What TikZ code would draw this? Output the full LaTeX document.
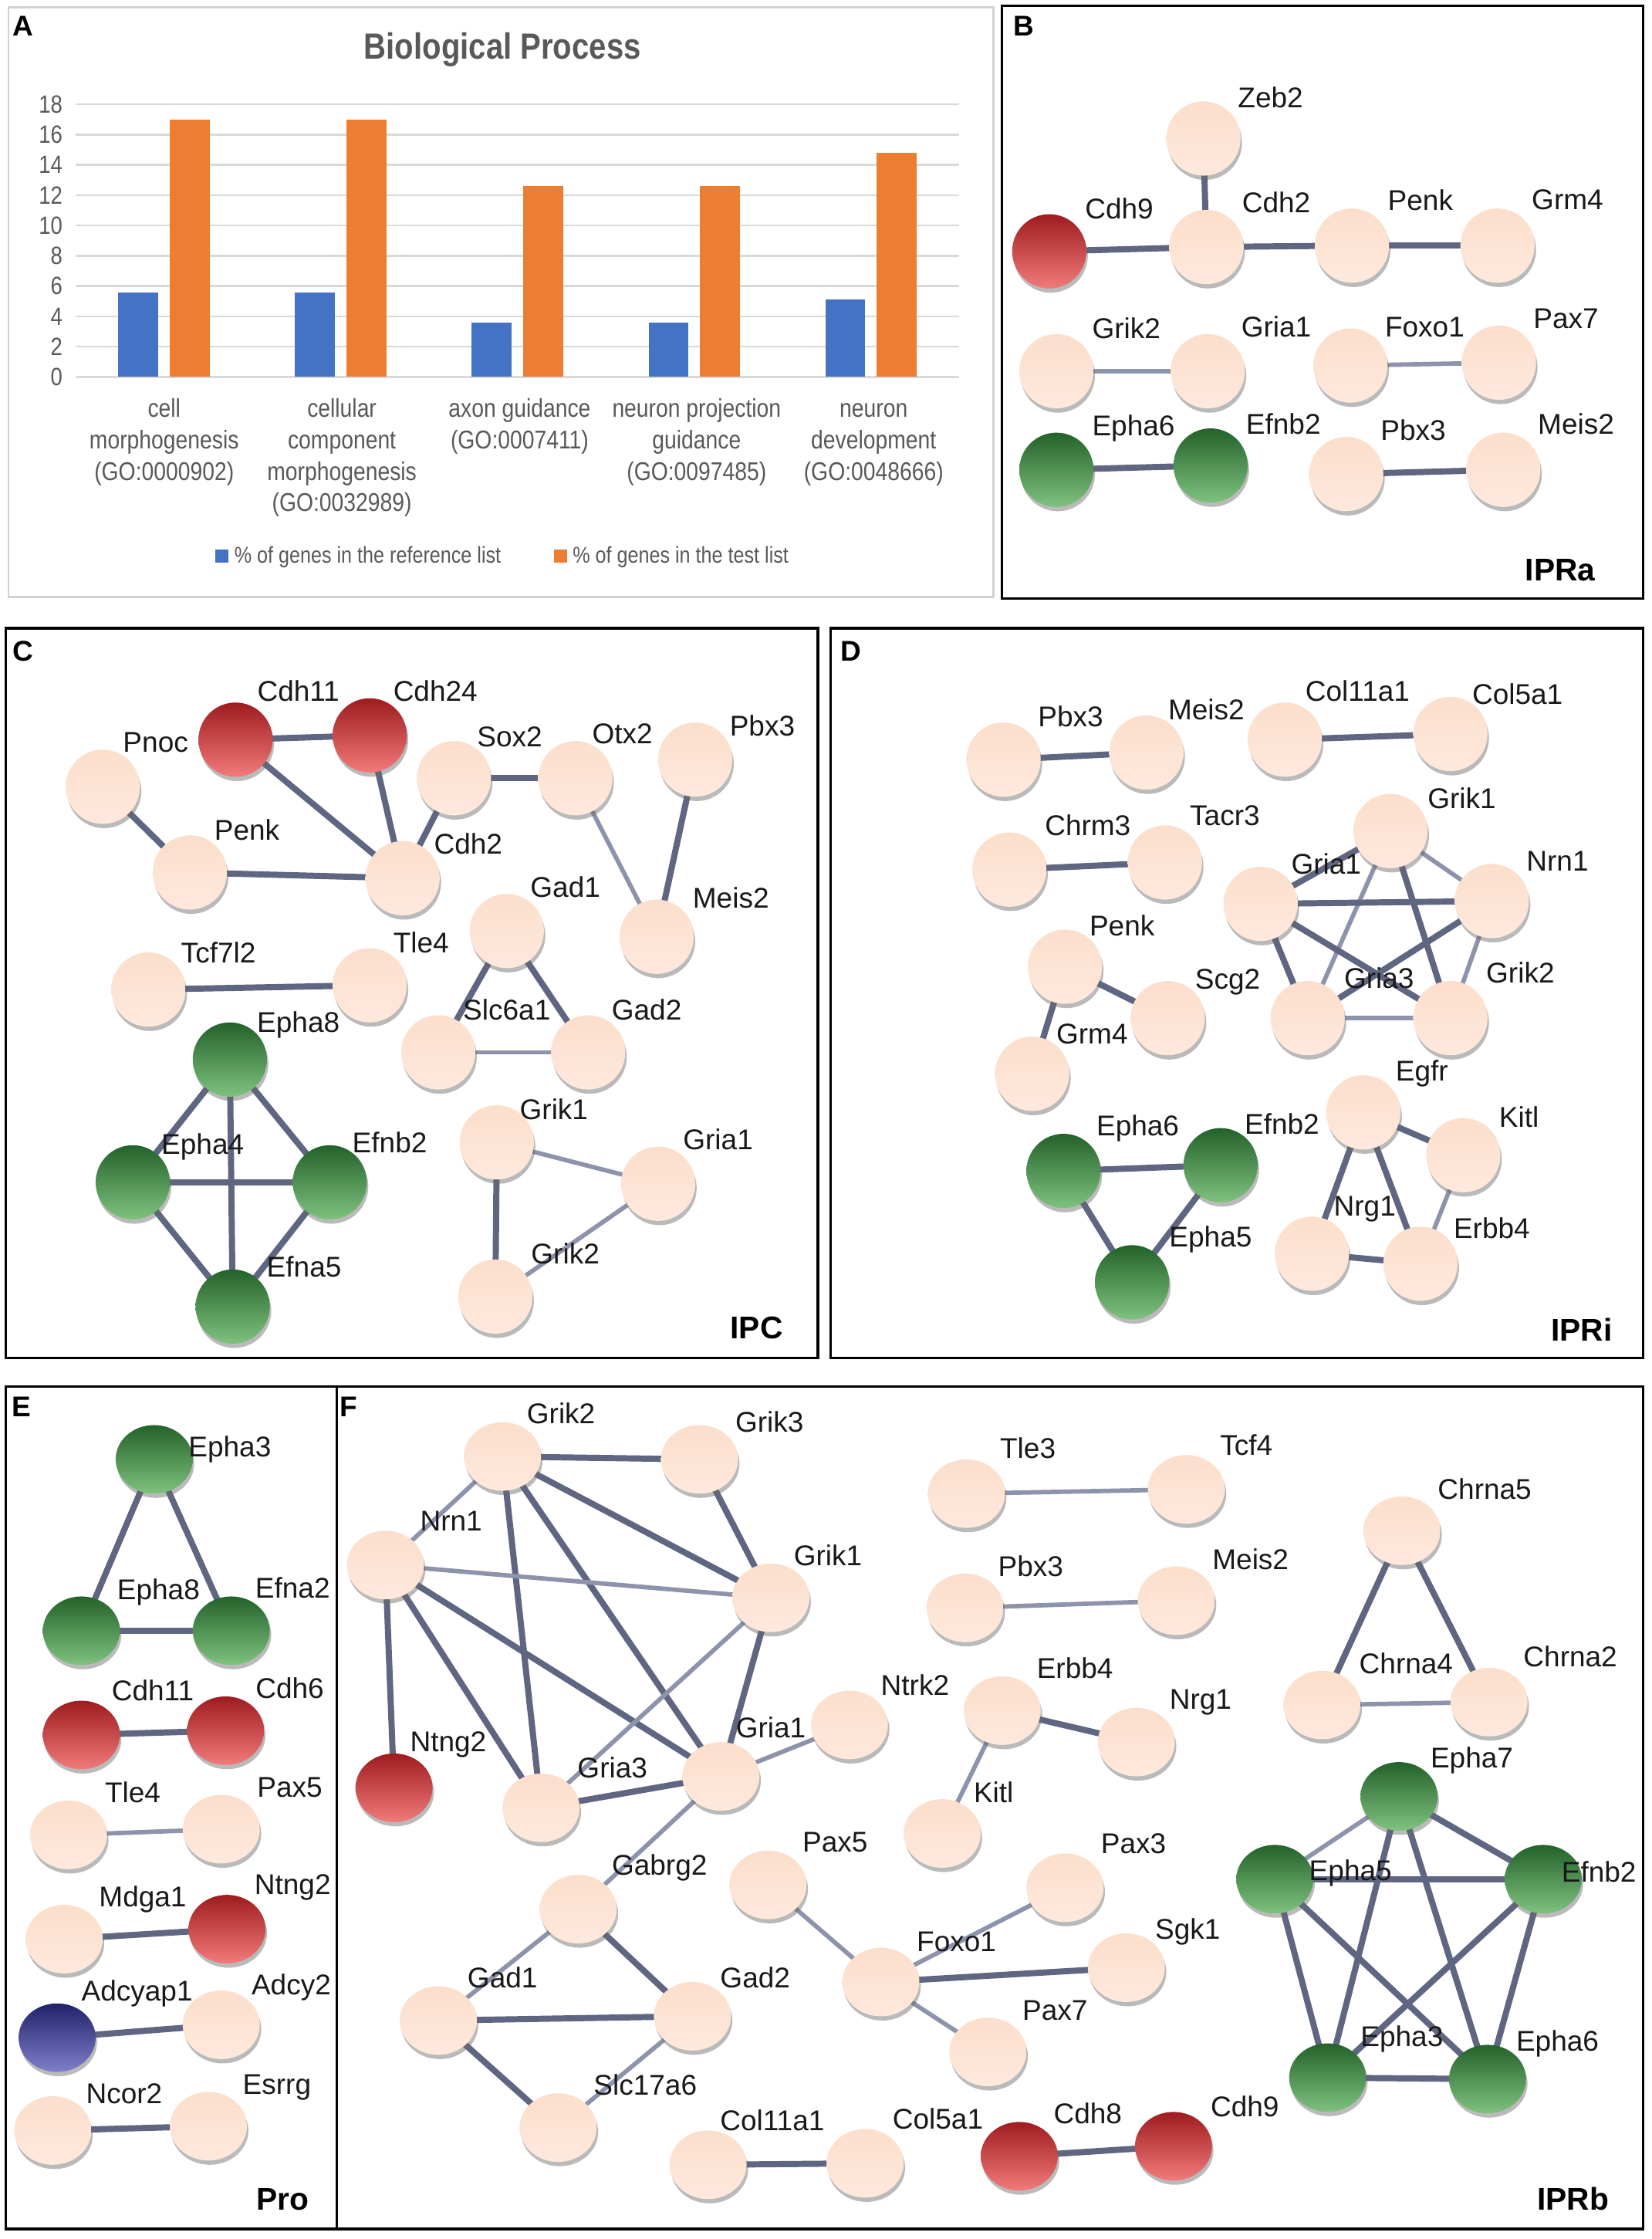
\documentclass[tikz,border=0pt]{standalone}
\usepackage{fontspec}
\setmainfont{Liberation Sans}
\newfontfamily\narrowf[FakeStretch=0.85]{Liberation Sans}
\usetikzlibrary{shadows,shapes.geometric}
\pgfdeclarelayer{bg}
\pgfsetlayers{bg,main}
\definecolor{peachA}{HTML}{FCDECB}
\definecolor{peachB}{HTML}{FEE9DD}
\definecolor{redA}{HTML}{9E1C20}
\definecolor{redB}{HTML}{F27A7A}
\definecolor{greenA}{HTML}{23622A}
\definecolor{greenB}{HTML}{7FC27F}
\definecolor{blueA}{HTML}{22226A}
\definecolor{blueB}{HTML}{7E7ECB}
\definecolor{edgec}{HTML}{5F6682}
\definecolor{edgel}{HTML}{8D93AA}
\definecolor{barblue}{HTML}{4472C4}
\definecolor{barorange}{HTML}{ED7D31}
\definecolor{gridc}{HTML}{D9D9D9}
\definecolor{txtgray}{HTML}{595959}
\tikzset{
  gbase/.style={circle, inner sep=0pt, minimum size=52pt, draw=none,
    drop shadow={shadow xshift=1pt, shadow yshift=-3pt, opacity=0.45, fill=black!60}},
  pe/.style={gbase, top color=peachA, bottom color=peachB},
  rd/.style={gbase, top color=redA, bottom color=redB},
  gr/.style={gbase, top color=greenA, bottom color=greenB},
  bl/.style={gbase, top color=blueA, bottom color=blueB},
  flat/.style={ellipse, minimum width=54pt, minimum height=48pt},
  lk/.style={line width=4.3pt, draw=edgec},
  lkl/.style={line width=3.1pt, draw=edgel},
  glabel/.style={font=\fontsize{20}{23}\selectfont, inner sep=1pt, text=black!90},
  plab/.style={font=\bfseries\fontsize{20}{24}\selectfont, inner sep=0pt},
  ptag/.style={font=\bfseries\fontsize{22}{26}\selectfont, inner sep=0pt},
  pbox/.style={draw=black, line width=1.8pt},
  axl/.style={font=\narrowf\fontsize{17.5}{20}\selectfont, text=txtgray, inner sep=0pt},
  catl/.style={font=\narrowf\fontsize{18}{22}\selectfont, text=txtgray, inner sep=0pt, anchor=north, align=center},
  legl/.style={font=\narrowf\fontsize{16}{19}\selectfont, text=txtgray, inner sep=0pt, anchor=west}
}
\newcommand{\gnode}[5]{\node[#1] (#2) at (#3) {}; \node[glabel] (#2t) at (#5) {#4};}
\newcommand{\lnk}[3][lk]{\draw[#1] (#2.center) -- (#3.center);}
\newcommand{\fl}{\vphantom{(l}}
\begin{document}
\begin{tikzpicture}[x=1pt,y=-1pt]
\begin{pgfonlayer}{bg}
\fill[white] (0,0) rectangle (1157,1568);
\end{pgfonlayer}
\useasboundingbox (0,0) rectangle (1157,1568);

% ---------------- Panel A ----------------
\draw[draw=black!18, line width=1.5pt] (6,5) rectangle (696,418);
\node[plab] (labA) at (16,18) {A};
\node[font=\narrowf\bfseries\fontsize{25.5}{30}\selectfont, text=txtgray] (titleA) at (352,35) {Biological Process};
\foreach \i in {0,...,9} {
  \pgfmathsetmacro\yy{264-\i*21.22}
  \draw[gridc, line width=1.3pt] (53,\yy) -- (672,\yy);
  \pgfmathtruncatemacro\vv{2*\i}
  \node[axl, anchor=east] (yl\i) at (44,\yy) {\vv};
}
\foreach \k/\b/\o in {0/5.6/17, 1/5.6/17, 2/3.6/12.6, 3/3.6/12.6, 4/5.1/14.8} {
  \pgfmathsetmacro\cx{114.9+\k*123.8}
  \fill[barblue] (\cx-32,264) rectangle (\cx-4,{264-\b*10.61});
  \fill[barorange] (\cx+4,264) rectangle (\cx+32,{264-\o*10.61});
}
\node[catl] (cat1) at (115,279) {\fl cell\\morphogenesis\\(GO:0000902)};
\node[catl] (cat2) at (239.5,279) {\fl cellular\\component\\morphogenesis\\(GO:0032989)};
\node[catl] (cat3) at (364,279) {\fl axon guidance\\(GO:0007411)};
\node[catl] (cat4) at (488,279) {\fl neuron projection\\guidance\\(GO:0097485)};
\node[catl] (cat5) at (612,279) {\fl neuron\\development\\(GO:0048666)};
\fill[barblue] (151,385) rectangle (160,394);
\node[legl] (leg1) at (164,390) {\% of genes in the reference list};
\fill[barorange] (388,385) rectangle (397,394);
\node[legl] (leg2) at (401,390) {\% of genes in the test list};

% ---------------- Panel B ----------------
\draw[pbox] (702,4) rectangle (1151,419);
\node[plab] (labB) at (717,18) {B};
\node[ptag] (tagB) at (1093,399) {IPRa};
\gnode{rd}{BCdh9}{735,176}{Cdh9}{784,146}
\gnode{pe}{BZeb2}{843,97}{Zeb2}{890,68}
\gnode{pe}{BCdh2}{845,173}{Cdh2}{894,142}
\gnode{pe}{BPenk}{947,172}{Penk}{995,140}
\gnode{pe}{BGrm4}{1049,172}{Grm4}{1098,140}
\gnode{pe}{BGrik2}{740,260}{Grik2}{789,230}
\gnode{pe}{BGria1}{846,260}{Gria1}{894,229}
\gnode{pe}{BFoxo1}{946,256}{Foxo1}{998,229}
\gnode{pe}{BPax7}{1050,254}{Pax7}{1097,223}
\gnode{gr}{BEpha6}{740,329}{Epha6}{794,300}
\gnode{gr}{BEfnb2}{848,326}{Efnb2}{899,297}
\gnode{pe}{BPbx3}{943,332}{Pbx3}{990,301}
\gnode{pe}{BMeis2}{1053,329}{Meis2}{1104,297}
\begin{pgfonlayer}{bg}
\lnk{BZeb2}{BCdh2}
\lnk{BCdh9}{BCdh2}
\lnk{BCdh2}{BPenk}
\lnk{BPenk}{BGrm4}
\lnk[lkl]{BGrik2}{BGria1}
\lnk[lkl]{BFoxo1}{BPax7}
\lnk{BEpha6}{BEfnb2}
\lnk{BPbx3}{BMeis2}
\end{pgfonlayer}

% ---------------- Panel C ----------------
\draw[pbox] (4,440) rectangle (573,951);
\node[plab] (labC) at (16,456) {C};
\node[ptag] (tagC) at (530,930) {IPC};
\gnode{pe}{CPnoc}{72,551}{Pnoc}{109,520}
\gnode{rd}{CCdh11}{165,518}{Cdh11}{209,484}
\gnode{rd}{CCdh24}{259,515}{Cdh24}{305,484}
\gnode{pe}{CSox2}{318,545}{Sox2}{357,516}
\gnode{pe}{COtx2}{403,545}{Otx2}{436,514}
\gnode{pe}{CPbx3}{487,532}{Pbx3}{534,508}
\gnode{pe}{CPenk}{133,611}{Penk}{173,581}
\gnode{pe}{CCdh2}{282,615}{Cdh2}{328,591}
\gnode{pe}{CGad1}{355,652}{Gad1}{396,621}
\gnode{pe}{CMeis2}{460,656}{Meis2}{512,629}
\gnode{pe}{CTcf}{104,693}{Tcf7l2}{153,667}
\gnode{pe}{CTle4}{259,690}{Tle4}{295,660}
\gnode{pe}{CSlc}{307,737}{Slc6a1}{355,707}
\gnode{pe}{CGad2}{412,737}{Gad2}{453,707}
\gnode{gr}{CEpha8}{161,742}{Epha8}{209,718}
\gnode{gr}{CEpha4}{93,828}{Epha4}{142,803}
\gnode{gr}{CEfnb2}{231,828}{Efnb2}{273,800}
\gnode{gr}{CEfna5}{163,915}{Efna5}{213,887}
\gnode{pe}{CGrik1}{348,800}{Grik1}{388,777}
\gnode{pe}{CGria1}{461,829}{Gria1}{503,798}
\gnode{pe}{CGrik2}{347,908}{Grik2}{396,878}
\begin{pgfonlayer}{bg}
\lnk{CPnoc}{CPenk}
\lnk{CCdh11}{CCdh24}
\lnk{CCdh11}{CCdh2}
\lnk{CCdh24}{CCdh2}
\lnk{CPenk}{CCdh2}
\lnk{CSox2}{CCdh2}
\lnk{CSox2}{COtx2}
\lnk[lkl]{COtx2}{CMeis2}
\lnk{CPbx3}{CMeis2}
\lnk{CTcf}{CTle4}
\lnk{CGad1}{CSlc}
\lnk{CGad1}{CGad2}
\lnk[lkl]{CSlc}{CGad2}
\lnk{CEpha8}{CEpha4}
\lnk{CEpha8}{CEfnb2}
\lnk{CEpha8}{CEfna5}
\lnk{CEpha4}{CEfnb2}
\lnk{CEpha4}{CEfna5}
\lnk{CEfnb2}{CEfna5}
\lnk[lkl]{CGrik1}{CGria1}
\lnk{CGrik1}{CGrik2}
\lnk[lkl]{CGria1}{CGrik2}
\end{pgfonlayer}

% ---------------- Panel D ----------------
\draw[pbox] (582,440) rectangle (1151,951);
\node[plab] (labD) at (596,456) {D};
\node[ptag] (tagD) at (1108,931) {IPRi};
\gnode{pe}{DPbx3}{703,532}{Pbx3}{750,502}
\gnode{pe}{DMeis2}{803,527}{Meis2}{845,497}
\gnode{pe}{DCol11}{900,518}{Col11a1}{951,484}
\gnode{pe}{DCol5}{1016,514}{Col5a1}{1063,486}
\gnode{pe}{DChrm3}{707,609}{Chrm3}{762,578}
\gnode{pe}{DTacr3}{816,604}{Tacr3}{858,571}
\gnode{pe}{DGrik1}{974,582}{Grik1}{1024,559}
\gnode{pe}{DGria1}{883,633}{Gria1}{929,605}
\gnode{pe}{DNrn1}{1045,631}{Nrn1}{1091,603}
\gnode{pe}{DPenk}{746,677}{Penk}{786,648}
\gnode{pe}{DScg2}{818,713}{Scg2}{860,688}
\gnode{pe}{DGrm4}{723,752}{Grm4}{765,724}
\gnode{pe}{DGria3}{916,713}{Gria3}{966,685}
\gnode{pe}{DGrik2}{1016,713}{Grik2}{1065,681}
\gnode{pe}{DEgfr}{955,779}{Egfr}{996,752}
\gnode{pe}{DKitl}{1025,809}{Kitl}{1064,782}
\gnode{gr}{DEpha6}{745,820}{Epha6}{797,790}
\gnode{gr}{DEfnb2}{855,816}{Efnb2}{898,787}
\gnode{gr}{DEpha5}{793,898}{Epha5}{848,868}
\gnode{pe}{DNrg1}{919,878}{Nrg1}{956,847}
\gnode{pe}{DErbb4}{995,885}{Erbb4}{1045,860}
\begin{pgfonlayer}{bg}
\lnk{DPbx3}{DMeis2}
\lnk{DCol11}{DCol5}
\lnk{DChrm3}{DTacr3}
\lnk{DPenk}{DScg2}
\lnk{DPenk}{DGrm4}
\lnk{DGrik1}{DGria1}
\lnk[lkl]{DGrik1}{DNrn1}
\lnk[lkl]{DGrik1}{DGria3}
\lnk{DGrik1}{DGrik2}
\lnk{DGria1}{DNrn1}
\lnk{DGria1}{DGria3}
\lnk{DGria1}{DGrik2}
\lnk{DNrn1}{DGria3}
\lnk[lkl]{DNrn1}{DGrik2}
\lnk[lkl]{DGria3}{DGrik2}
\lnk{DEgfr}{DKitl}
\lnk{DEgfr}{DNrg1}
\lnk{DEgfr}{DErbb4}
\lnk[lkl]{DKitl}{DErbb4}
\lnk{DNrg1}{DErbb4}
\lnk{DEpha6}{DEfnb2}
\lnk{DEpha6}{DEpha5}
\lnk{DEfnb2}{DEpha5}
\end{pgfonlayer}

% ---------------- Panels E and F ----------------
\draw[pbox] (4,971) rectangle (1151,1561);
\draw[pbox] (236,971) -- (236,1561);
\node[plab] (labE) at (15,985) {E};
\node[ptag] (tagE) at (198,1540) {Pro};
\node[plab] (labF) at (244,985) {F};
\node[ptag] (tagF) at (1102,1540) {IPRb};

\gnode{gr,flat}{EEpha3}{108,1022}{Epha3}{161,1015}
\gnode{gr,flat}{EEpha8}{57,1142}{Epha8}{111,1115}
\gnode{gr,flat}{EEfna2}{162,1142}{Efna2}{205,1112}
\gnode{rd,flat}{ECdh11}{57,1215}{Cdh11}{107,1184}
\gnode{rd,flat}{ECdh6}{158,1212}{Cdh6}{203,1182}
\gnode{pe,flat}{ETle4}{48,1285}{Tle4}{93,1255}
\gnode{pe,flat}{EPax5}{155,1281}{Pax5}{203,1252}
\gnode{pe,flat}{EMdga1}{45,1358}{Mdga1}{100,1330}
\gnode{rd,flat}{ENtng2}{159,1351}{Ntng2}{205,1322}
\gnode{bl,flat}{EAdcyap1}{40,1427}{Adcyap1}{96,1396}
\gnode{pe,flat}{EAdcy2}{155,1418}{Adcy2}{204,1392}
\gnode{pe,flat}{ENcor2}{37,1492}{Ncor2}{87,1466}
\gnode{pe,flat}{EEsrrg}{146,1489}{Esrrg}{194,1462}
\begin{pgfonlayer}{bg}
\lnk{EEpha3}{EEpha8}
\lnk{EEpha3}{EEfna2}
\lnk{EEpha8}{EEfna2}
\lnk{ECdh11}{ECdh6}
\lnk[lkl]{ETle4}{EPax5}
\lnk{EMdga1}{ENtng2}
\lnk{EAdcyap1}{EAdcy2}
\lnk{ENcor2}{EEsrrg}
\end{pgfonlayer}

\gnode{pe,flat}{FGrik2}{352,1020}{Grik2}{393,990}
\gnode{pe,flat}{FGrik3}{490,1022}{Grik3}{539,996}
\gnode{pe,flat}{FNrn1}{270,1096}{Nrn1}{316,1065}
\gnode{pe,flat}{FGrik1}{540,1119}{Grik1}{580,1089}
\gnode{rd,flat}{FNtng2}{276,1252}{Ntng2}{314,1222}
\gnode{pe,flat}{FGria3}{379,1266}{Gria3}{429,1238}
\gnode{pe,flat}{FGria1}{505,1244}{Gria1}{540,1210}
\gnode{pe,flat}{FNtrk2}{595,1208}{Ntrk2}{641,1180}
\gnode{pe,flat}{FGabrg2}{405,1337}{Gabrg2}{462,1308}
\gnode{pe,flat}{FGad1}{307,1415}{Gad1}{352,1385}
\gnode{pe,flat}{FGad2}{485,1412}{Gad2}{529,1385}
\gnode{pe,flat}{FSlc}{391,1490}{Slc17a6}{452,1460}
\gnode{pe,flat}{FPax5}{538,1320}{Pax5}{585,1290}
\gnode{pe,flat}{FFoxo1}{617,1388}{Foxo1}{670,1360}
\gnode{pe,flat}{FPax3}{746,1322}{Pax3}{794,1291}
\gnode{pe,flat}{FSgk1}{789,1378}{Sgk1}{832,1353}
\gnode{pe,flat}{FPax7}{692,1437}{Pax7}{739,1408}
\gnode{pe,flat}{FCol11}{496,1516}{Col11a1}{541,1485}
\gnode{pe,flat}{FCol5}{606,1515}{Col5a1}{657,1484}
\gnode{rd,flat}{FCdh8}{714,1510}{Cdh8}{762,1480}
\gnode{rd,flat}{FCdh9}{822,1503}{Cdh9}{872,1475}
\gnode{pe,flat}{FTle3}{677,1046}{Tle3}{720,1014}
\gnode{pe,flat}{FTcf4}{831,1043}{Tcf4}{873,1012}
\gnode{pe,flat}{FPbx3}{676,1126}{Pbx3}{722,1097}
\gnode{pe,flat}{FMeis2}{824,1121}{Meis2}{876,1092}
\gnode{pe,flat}{FErbb4}{702,1198}{Erbb4}{753,1168}
\gnode{pe,flat}{FNrg1}{796,1220}{Nrg1}{841,1192}
\gnode{pe,flat}{FKitl}{660,1284}{Kitl}{696,1255}
\gnode{pe,flat}{FChrna5}{982,1072}{Chrna5}{1040,1043}
\gnode{pe,flat}{FChrna4}{926,1194}{Chrna4}{985,1165}
\gnode{pe,flat}{FChrna2}{1043,1192}{Chrna2}{1100,1160}
\gnode{gr,flat}{FEpha7}{980,1258}{Epha7}{1031,1233}
\gnode{gr,flat}{FEpha5}{893,1316}{Epha5}{946,1312}
\gnode{gr,flat}{FEfnb2}{1081,1316}{Efnb2}{1120,1311}
\gnode{gr,flat}{FEpha3}{930,1455}{Epha3}{982,1428}
\gnode{gr,flat}{FEpha6}{1042,1456}{Epha6}{1091,1431}
\begin{pgfonlayer}{bg}
\lnk{FGrik2}{FGrik3}
\lnk[lkl]{FGrik2}{FNrn1}
\lnk{FGrik2}{FGrik1}
\lnk{FGrik2}{FGria3}
\lnk{FGrik2}{FGria1}
\lnk{FGrik3}{FGrik1}
\lnk[lkl]{FNrn1}{FGrik1}
\lnk{FNrn1}{FNtng2}
\lnk{FNrn1}{FGria3}
\lnk{FNrn1}{FGria1}
\lnk[lkl]{FGrik1}{FGria3}
\lnk{FGrik1}{FGria1}
\lnk{FGria3}{FGria1}
\lnk[lkl]{FGria1}{FNtrk2}
\lnk[lkl]{FGria1}{FGabrg2}
\lnk[lkl]{FGabrg2}{FGad1}
\lnk{FGabrg2}{FGad2}
\lnk{FGad1}{FGad2}
\lnk{FGad1}{FSlc}
\lnk[lkl]{FGad2}{FSlc}
\lnk[lkl]{FPax5}{FFoxo1}
\lnk[lkl]{FFoxo1}{FPax3}
\lnk{FFoxo1}{FSgk1}
\lnk[lkl]{FFoxo1}{FPax7}
\lnk{FCol11}{FCol5}
\lnk{FCdh8}{FCdh9}
\lnk[lkl]{FTle3}{FTcf4}
\lnk[lkl]{FPbx3}{FMeis2}
\lnk{FErbb4}{FNrg1}
\lnk[lkl]{FErbb4}{FKitl}
\lnk{FChrna5}{FChrna4}
\lnk{FChrna5}{FChrna2}
\lnk[lkl]{FChrna4}{FChrna2}
\lnk[lkl]{FEpha7}{FEpha5}
\lnk{FEpha7}{FEfnb2}
\lnk{FEpha7}{FEpha3}
\lnk{FEpha7}{FEpha6}
\lnk{FEpha5}{FEfnb2}
\lnk{FEpha5}{FEpha3}
\lnk{FEpha5}{FEpha6}
\lnk{FEfnb2}{FEpha3}
\lnk{FEfnb2}{FEpha6}
\lnk{FEpha3}{FEpha6}
\end{pgfonlayer}
\end{tikzpicture}
\end{document}
